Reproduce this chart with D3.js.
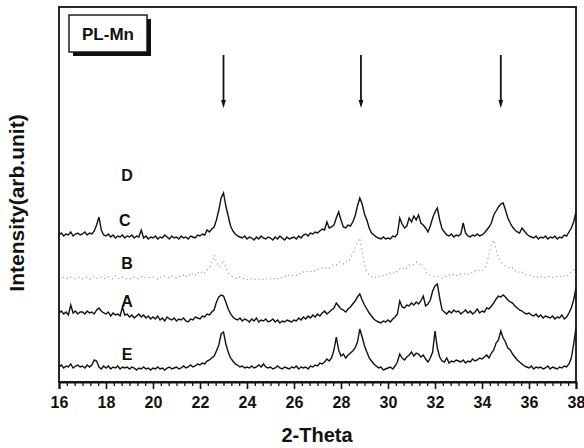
<!DOCTYPE html>
<html>
<head>
<meta charset="utf-8">
<script src="https://cdn.jsdelivr.net/npm/d3@7"></script>
<style>
  html, body { margin: 0; padding: 0; background: #fff; }
  svg { display: block; font-family: "Liberation Sans", Arial, sans-serif; }
</style>
</head>
<body>
<svg id="chart" width="584" height="448"></svg>
<script>
// ---- data ----
const xStart = 16, xStep = 0.1;
const xTicks = [16, 18, 20, 22, 24, 26, 28, 30, 32, 34, 36, 38];
const seriesNames = ["E", "A", "B", "C", "D"];
const seriesOffsets = [12, 58, 100, 140, 190];
const arrowPositions = [23.0, 28.85, 34.8];
const boxLabel = "PL-Mn";
const xLabel = "2-Theta";
const yLabel = "Intensity(arb.unit)";

const seriesE = [
  3,5,2,4,3,6,2,4,5,3,
  4,2,5,3,5,10,9,3,1,4,
  2,4,1,3,2,4,1,3,2,3,
  1,3,2,0,2,1,3,1,2,0,
  2,1,3,1,2,0,2,3,1,2,
  3,1,2,4,2,3,5,3,4,6,
  5,7,6,9,10,12,14,19,25,36,
  38,26,18,12,9,6,5,3,4,2,
  3,2,4,2,3,5,3,6,3,2,
  3,1,2,4,2,1,3,2,1,3,
  2,4,1,3,2,3,1,4,3,5,
  4,7,6,8,11,9,12,20,33,20,
  14,16,12,15,17,19,22,28,41,33,
  24,18,12,9,6,4,2,3,0,1,
  2,3,1,4,8,16,12,10,13,15,
  18,14,17,16,13,15,11,8,12,18,
  39,22,13,9,8,12,7,9,8,10,
  9,8,10,7,9,8,11,9,10,12,
  11,13,15,12,17,20,27,30,39,32,
  28,22,20,16,13,10,8,6,4,3,
  2,4,1,3,2,3,1,2,4,1,
  3,2,1,3,2,4,3,6,12,26,
  42
];
const seriesA = [
  11,13,10,12,9,19,11,13,10,12,
  12,10,13,11,12,10,14,16,13,11,
  10,12,8,11,9,10,8,17,9,10,
  7,9,6,8,10,7,9,6,8,5,
  7,5,8,4,6,3,7,5,4,6,
  3,5,4,6,3,2,5,4,7,6,
  5,8,7,10,9,12,14,22,27,29,
  28,22,15,10,7,5,4,6,3,5,
  4,2,5,3,6,2,4,3,5,2,
  3,5,2,4,1,3,2,4,3,2,
  4,3,6,4,7,5,8,6,9,7,
  10,8,11,13,10,12,14,16,21,18,
  15,14,12,15,17,20,23,27,30,24,
  19,15,11,8,5,3,2,1,3,2,
  4,2,5,7,10,23,17,16,19,18,
  21,19,22,20,23,28,18,20,24,33,
  38,40,26,14,12,10,13,11,14,12,
  13,10,12,14,11,13,10,12,15,11,
  13,12,16,15,18,21,25,28,27,29,
  27,24,22,21,18,16,14,13,11,10,
  11,9,8,10,7,9,6,8,7,6,
  8,5,7,6,9,5,7,11,16,24,
  36
];
const seriesB = [
  4,3,5,4,3,5,4,3,4,5,
  3,4,5,3,4,6,4,3,5,4,
  3,5,4,3,6,4,3,5,4,3,
  4,3,5,4,3,5,6,4,5,4,
  5,4,3,5,4,6,5,4,6,5,
  4,6,5,7,5,8,6,9,7,10,
  8,11,9,12,14,18,27,20,15,17,
  22,14,9,7,5,4,3,5,4,3,
  2,4,3,2,4,3,2,3,4,2,
  3,2,4,3,5,4,6,5,7,6,
  8,7,9,8,10,9,11,10,12,11,
  13,12,14,13,15,14,16,18,17,20,
  19,18,21,20,24,28,34,40,44,30,
  18,10,7,5,6,4,5,7,6,8,
  7,9,8,11,10,13,12,15,14,17,
  16,18,20,17,19,15,10,8,7,6,
  5,6,5,4,6,5,7,6,8,7,
  6,8,7,9,8,10,9,11,10,12,
  11,14,18,28,38,42,32,24,20,18,
  16,15,13,14,11,12,9,10,8,7,
  6,7,5,6,4,5,6,4,5,6,
  5,4,6,5,7,6,5,8,10,12,
  16
];
const seriesC = [
  7,9,6,8,7,10,6,8,9,7,
  8,10,7,9,8,11,17,25,12,7,
  6,8,5,7,4,6,5,7,4,6,
  5,7,4,6,5,12,4,6,3,5,
  4,6,3,5,4,7,5,3,6,4,
  5,3,6,4,5,3,6,5,4,7,
  6,8,7,12,10,13,15,22,32,44,
  49,36,26,16,11,8,6,5,4,6,
  3,5,4,2,5,3,6,4,3,5,
  4,2,5,3,6,4,2,5,3,4,
  5,3,6,4,7,8,6,9,8,10,
  9,11,13,12,20,14,15,17,24,30,
  22,15,14,17,16,20,26,36,44,38,
  28,22,14,9,7,5,4,3,5,3,
  4,3,6,5,8,24,18,14,16,24,
  20,26,22,27,19,17,14,10,16,24,
  30,34,22,13,10,7,6,8,5,7,
  6,8,19,9,6,5,7,6,8,6,
  7,9,12,15,19,27,31,35,38,39,
  32,24,19,15,12,10,9,14,11,8,
  6,5,4,6,3,5,4,6,3,5,
  4,6,3,5,4,7,6,10,14,20,
  30
];
const seriesValues = [seriesE, seriesA, seriesB, seriesC, []];
const labelX = [18.9, 18.9, 18.9, 18.8, 18.9];
const labelY = [28, 81, 119, 162, 207];

// ---- layout ----
const svg = d3.select("#chart");
const m = { left: 59, right: 576, top: 7, bottom: 382 };
const x = d3.scaleLinear().domain([16, 38]).range([m.left, m.right]);
const y = d3.scaleLinear().domain([0, 375]).range([m.bottom, m.top]);

// traces
const line = d3.line()
  .x((d, i) => x(xStart + i * xStep))
  .y(d => d);

seriesValues.forEach((vals, k) => {
  if (!vals.length) return;
  const pts = vals.map(v => y(v + seriesOffsets[k]));
  const isB = seriesNames[k] === "B";
  svg.append("path")
    .attr("d", line(pts))
    .attr("fill", "none")
    .attr("stroke", isB ? "#999" : "#111")
    .attr("stroke-width", isB ? 1.1 : 1.4)
    .attr("stroke-dasharray", isB ? "1.2 3.2" : null)
    .attr("stroke-linejoin", "miter");
});

// series labels
seriesNames.forEach((n, k) => {
  svg.append("text")
    .attr("x", x(labelX[k]))
    .attr("y", y(labelY[k]))
    .attr("text-anchor", "middle")
    .attr("dominant-baseline", "central")
    .attr("font-size", 16)
    .attr("font-weight", "bold")
    .attr("fill", "#111")
    .text(n);
});

// arrows
arrowPositions.forEach(p => {
  const ax = x(p);
  svg.append("line")
    .attr("x1", ax).attr("x2", ax)
    .attr("y1", y(327)).attr("y2", y(280))
    .attr("stroke", "#111").attr("stroke-width", 1.8);
  svg.append("path")
    .attr("d", `M${ax - 2.4},${y(282)} L${ax + 2.4},${y(282)} L${ax},${y(274)} Z`)
    .attr("fill", "#111");
});

// frame
svg.append("rect")
  .attr("x", m.left).attr("y", m.top)
  .attr("width", m.right - m.left).attr("height", m.bottom - m.top)
  .attr("fill", "none").attr("stroke", "#111").attr("stroke-width", 1.8);

// x axis
const minorTicks = d3.range(0, 67).map(i => 16 + i / 3).filter(v => Math.abs(v - Math.round(v / 2) * 2) > 0.01);
svg.append("g")
  .attr("transform", `translate(0,${m.bottom})`)
  .call(d3.axisBottom(x).tickValues(minorTicks).tickSize(4).tickFormat(""))
  .call(g => g.select(".domain").remove())
  .call(g => g.selectAll("line").attr("stroke", "#111").attr("stroke-width", 1.3));

svg.append("g")
  .attr("transform", `translate(0,${m.bottom})`)
  .call(d3.axisBottom(x).tickValues(xTicks).tickSize(7).tickPadding(8).tickFormat(d3.format("d")))
  .call(g => g.select(".domain").attr("stroke", "#111").attr("stroke-width", 2))
  .call(g => g.selectAll("line").attr("stroke", "#111").attr("stroke-width", 1.6))
  .call(g => g.selectAll("text")
    .attr("font-size", 16).attr("font-weight", "bold").attr("fill", "#111")
    .attr("font-family", "'Liberation Sans', Arial, sans-serif"));

// axis titles
svg.append("text")
  .attr("x", 317).attr("y", 442)
  .attr("text-anchor", "middle")
  .attr("font-size", 20).attr("font-weight", "bold").attr("fill", "#111")
  .text(xLabel);

svg.append("text")
  .attr("transform", "translate(24,203) rotate(-90)")
  .attr("text-anchor", "middle")
  .attr("font-size", 21).attr("font-weight", "bold").attr("fill", "#111")
  .text(yLabel);

// PL-Mn box with shadow
svg.append("rect")
  .attr("x", 73).attr("y", 19).attr("width", 78).attr("height", 37)
  .attr("fill", "#111");
svg.append("rect")
  .attr("x", 69).attr("y", 15).attr("width", 78).attr("height", 37)
  .attr("fill", "#fff").attr("stroke", "#111").attr("stroke-width", 1.4);
svg.append("text")
  .attr("x", 108).attr("y", 34)
  .attr("text-anchor", "middle")
  .attr("dominant-baseline", "central")
  .attr("font-size", 17).attr("font-weight", "bold").attr("fill", "#111")
  .text(boxLabel);
</script>
</body>
</html>
